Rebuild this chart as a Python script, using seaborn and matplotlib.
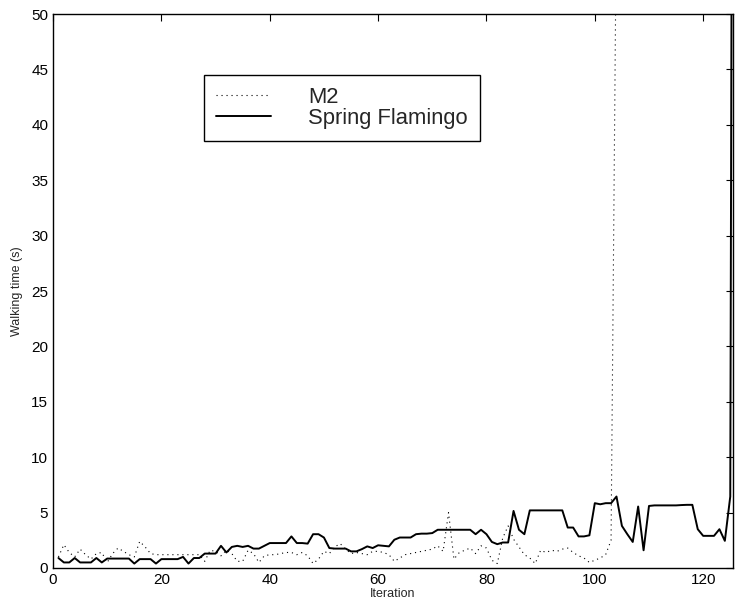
import numpy as np
import pandas as pd
import matplotlib
matplotlib.use("Agg")
import matplotlib.pyplot as plt
import seaborn as sns

# ---- data ----
m2_iter = list(range(1, 105))
m2_time = [1.0, 2.1, 1.4, 1.0, 1.7, 1.2, 0.8, 1.3, 1.4, 0.5,
           1.3, 1.8, 1.5, 1.2, 1.0, 2.4, 1.9, 1.3, 1.2, 1.2,
           1.2, 1.2, 1.2, 1.2, 1.2, 1.2, 1.2, 0.6, 1.6, 1.5,
           1.1, 1.6, 1.3, 0.6, 0.6, 1.6, 1.3, 0.5, 1.1, 1.2,
           1.2, 1.3, 1.4, 1.4, 1.2, 1.4, 1.1, 0.4, 0.8, 1.5,
           1.3, 1.9, 2.2, 1.7, 1.3, 1.4, 1.3, 1.2, 1.5, 1.5,
           1.4, 1.2, 0.6, 0.9, 1.2, 1.3, 1.4, 1.5, 1.6, 1.7,
           2.0, 1.5, 5.0, 0.8, 1.4, 1.6, 1.8, 1.3, 2.0, 1.8,
           0.7, 0.4, 2.7, 3.8, 2.6, 1.9, 1.2, 0.9, 0.4, 1.6,
           1.4, 1.6, 1.5, 1.7, 1.8, 1.4, 1.1, 0.9, 0.5, 0.7,
           0.9, 1.2, 2.5, 60.0]

sf_iter = list(range(1, 127))
sf_time = [0.9, 0.5, 0.5, 0.9, 0.5, 0.5, 0.5, 0.9, 0.5, 0.85,
           0.85, 0.85, 0.85, 0.85, 0.4, 0.8, 0.8, 0.8, 0.4, 0.8,
           0.8, 0.8, 0.8, 1.0, 0.4, 0.9, 0.9, 1.3, 1.3, 1.3,
           2.0, 1.4, 1.9, 2.0, 1.9, 2.0, 1.75, 1.75, 2.0, 2.25,
           2.25, 2.25, 2.25, 2.85, 2.25, 2.25, 2.2, 3.05, 3.05, 2.75,
           1.8, 1.75, 1.75, 1.75, 1.5, 1.5, 1.7, 1.95, 1.8, 2.05,
           2.0, 1.95, 2.55, 2.75, 2.75, 2.75, 3.05, 3.1, 3.1, 3.15,
           3.45, 3.45, 3.45, 3.45, 3.45, 3.45, 3.45, 3.05, 3.45, 3.05,
           2.35, 2.15, 2.3, 2.3, 5.15, 3.45, 3.05, 5.2, 5.2, 5.2,
           5.2, 5.2, 5.2, 5.2, 3.65, 3.65, 2.85, 2.85, 2.95, 5.85,
           5.75, 5.85, 5.85, 6.45, 3.8, 3.05, 2.35, 5.55, 1.6, 5.6,
           5.65, 5.65, 5.65, 5.65, 5.65, 5.68, 5.7, 5.7, 3.5, 2.9,
           2.9, 2.9, 3.5, 2.45, 6.45, 200.0]

x_ticks = [0, 20, 40, 60, 80, 100, 120]
y_ticks = [0, 5, 10, 15, 20, 25, 30, 35, 40, 45, 50]

m2_df = pd.DataFrame({"Iteration": m2_iter, "Walking time (s)": m2_time})
sf_df = pd.DataFrame({"Iteration": sf_iter, "Walking time (s)": sf_time})

# ---- style ----
sns.set_style("white")
plt.rcParams["font.family"] = ["Liberation Sans", "DejaVu Sans"]

fig = plt.figure(figsize=(7.49, 6.11), dpi=100)
ax = fig.add_axes([0.0708, 0.0704, 0.9078, 0.9066])

sns.lineplot(data=m2_df, x="Iteration", y="Walking time (s)", ax=ax,
             color="black", linewidth=0.8, linestyle=(0, (1, 3.5)),
             label="M2")
sns.lineplot(data=sf_df, x="Iteration", y="Walking time (s)", ax=ax,
             color="black", linewidth=1.4, linestyle="-",
             label="Spring Flamingo")

ax.set_xlim(0, 125.5)
ax.set_ylim(0, 50)
ax.set_xticks(x_ticks)
ax.set_yticks(y_ticks)
ax.tick_params(direction="in", top=True, right=True, length=5,
               width=0.8, labelsize=11, colors="black")
for s in ax.spines.values():
    s.set_visible(True)
    s.set_color("black")
    s.set_linewidth(1.0)

ax.set_xlabel("Iteration", fontsize=9, labelpad=1)
ax.set_ylabel("Walking time (s)", fontsize=9, labelpad=6)

leg = ax.legend(loc="upper left", bbox_to_anchor=(0.222, 0.89),
                borderaxespad=0, fontsize=15.8, frameon=True,
                fancybox=False, edgecolor="black", framealpha=1,
                handlelength=2.5, handletextpad=1.7, labelspacing=0.0,
                borderpad=0.55)
leg.get_frame().set_linewidth(1.0)

fig.savefig("out.png", dpi=100)
